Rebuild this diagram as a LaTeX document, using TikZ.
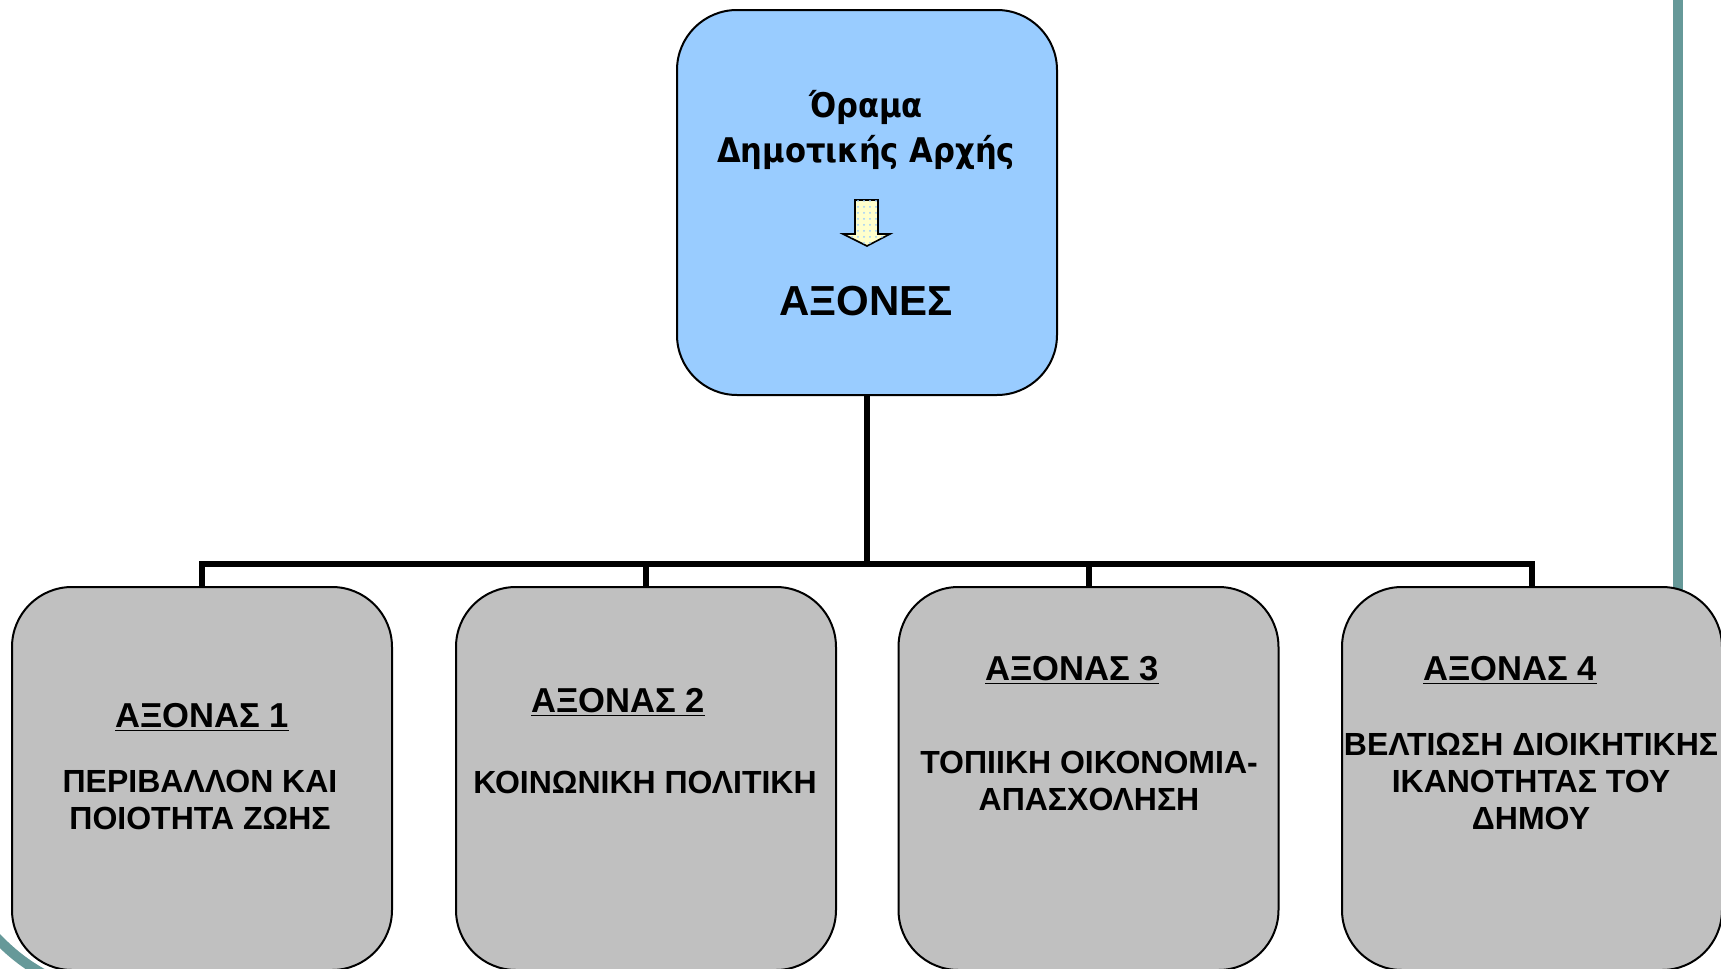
\documentclass[tikz,border=0pt]{standalone}
\usepackage{fontspec}
\setmainfont{Liberation Sans}
\newfontfamily\visionfont{DejaVu Sans Condensed}
\usetikzlibrary{patterns}
\definecolor{visionblue}{RGB}{153,204,255}
\definecolor{axisgray}{RGB}{192,192,192}
\definecolor{slideteal}{RGB}{102,153,153}
\definecolor{arrowyellow}{RGB}{255,255,204}

\begin{document}
\begin{tikzpicture}[x=0.5pt,y=0.5pt,yscale=-1,xscale=1,
  roundbox/.style={draw=black,line width=1pt,rounded corners=30pt,minimum width=190pt,inner sep=0pt},
  axisbox/.style={roundbox,fill=axisgray,minimum height=191.5pt},
  boxtext/.style={inner sep=0pt,align=center,font=\bfseries\fontsize{16}{18.5}\selectfont},
  boxhead/.style={boxtext,anchor=base,font=\bfseries\fontsize{17.3}{20}\selectfont},
  link/.style={line width=3pt}]
\useasboundingbox (0,0) rectangle (1721,969);

%Slide decoration
\draw [slideteal,line width=5pt] (1678,-5) -- (1678,600) ;
\draw [slideteal,line width=5pt] (-5,936) .. controls (10,952) and (25,964) .. (45,975) ;

%Rounded Rect
\node (vision) at (867,202.5) [roundbox,fill=visionblue,minimum height=192.5pt] {};
%Rounded Rect
\node (ax1) at (202,778.5) [axisbox] {};
%Rounded Rect
\node (ax2) at (646,778.5) [axisbox] {};
%Rounded Rect
\node (ax3) at (1088.5,778.5) [axisbox] {};
%Rounded Rect
\node (ax4) at (1532,778.5) [axisbox] {};

%Straight Lines
\coordinate (bar) at (867,564);
\draw [link] (vision.south) -- (bar) ;
\draw [link] (ax1.north) |- (bar) -| (ax4.north) ;
\draw [link] (ax2.north) -- (ax2.north |- bar) ;
\draw [link] (ax3.north) -- (ax3.north |- bar) ;

%Down Arrow
\draw [fill=arrowyellow,postaction={pattern=dots,pattern color=visionblue},line width=0.8pt] (855,200) -- (878,200) -- (878,234) -- (890,234) -- (867,246) -- (843,234) -- (855,234) -- cycle ;

% Text Node
\node (vtitle) at (866,130) [inner sep=0pt,align=center,font=\visionfont\bfseries\fontsize{17}{22.5}\selectfont] {Όραμα\\Δημοτικής Αρχής};
% Text Node
\node (vaxes) at (866,315) [anchor=base,inner sep=0pt,font=\bfseries\fontsize{21}{24}\selectfont] {ΑΞΟΝΕΣ};
% Text Node
\node (h1) at (202,727) [boxhead] {\underline{ΑΞΟΝΑΣ 1}};
\node (t1) at (200,800) [boxtext] {ΠΕΡΙΒΑΛΛΟΝ ΚΑΙ\\ΠΟΙΟΤΗΤΑ ΖΩΗΣ};
% Text Node
\node (h2) at (618,712) [boxhead] {\underline{ΑΞΟΝΑΣ 2}};
\node (t2) at (645,793) [boxtext,anchor=base] {ΚΟΙΝΩΝΙΚΗ ΠΟΛΙΤΙΚΗ};
% Text Node
\node (h3) at (1072,680) [boxhead] {\underline{ΑΞΟΝΑΣ 3}};
\node (t3) at (1089,781) [boxtext] {ΤΟΠΙΙΚΗ ΟΙΚΟΝΟΜΙΑ-\\ΑΠΑΣΧΟΛΗΣΗ};
% Text Node
\node (h4) at (1510,680) [boxhead] {\underline{ΑΞΟΝΑΣ 4}};
\node (t4) at (1531,781.5) [boxtext] {ΒΕΛΤΙΩΣΗ ΔΙΟΙΚΗΤΙΚΗΣ\\ΙΚΑΝΟΤΗΤΑΣ ΤΟΥ\\ΔΗΜΟΥ};

\end{tikzpicture}
\end{document}
